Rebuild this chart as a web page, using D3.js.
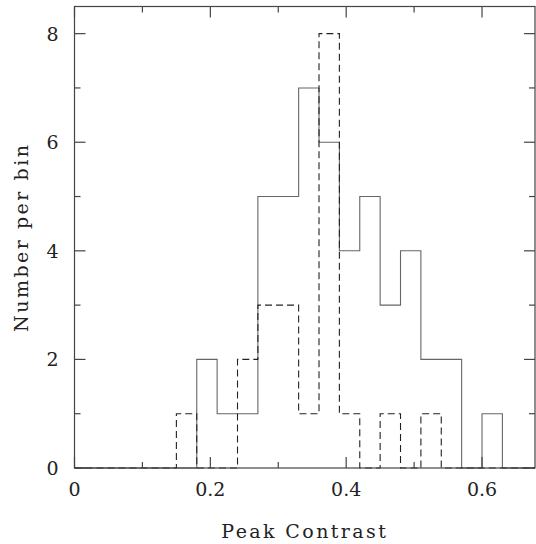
<!DOCTYPE html>
<html lang="en">
<head>
  <meta charset="UTF-8">
  <title>Peak Contrast histogram</title>
  <style>
    body { margin: 0; padding: 0; background: #ffffff; }
    svg { display: block; }
    .tick-label { font-family: "DejaVu Serif", serif; font-size: 19px; fill: #222; }
    .axis-title { font-family: "DejaVu Serif", serif; font-size: 19px; fill: #222; }
  </style>
</head>
<body>
<div id="chart"></div>
<script src="https://d3js.org/d3.v7.min.js"></script>
<script>
  const width = 536;
  const height = 544;
  const margin = { top: 6.5, right: 1, bottom: 76, left: 74.5 };

  // bin edges (width 0.03) and counts per bin
  const binEdges = [0, 0.03, 0.06, 0.09, 0.12, 0.15, 0.18, 0.21, 0.24, 0.27, 0.30, 0.33,
                    0.36, 0.39, 0.42, 0.45, 0.48, 0.51, 0.54, 0.57, 0.60, 0.63, 0.66];
  const solidCounts  = [0, 0, 0, 0, 0, 0, 2, 1, 1, 5, 5, 7, 6, 4, 5, 3, 4, 2, 2, 0, 1, 0];
  const dashedCounts = [0, 0, 0, 0, 0, 1, 0, 0, 2, 3, 3, 1, 8, 1, 0, 1, 0, 1, 0, 0, 0, 0];

  const xTicks = [0, 0.2, 0.4, 0.6];
  const xMinor = [0.1, 0.3, 0.5];
  const yTicks = [0, 2, 4, 6, 8];
  const yMinor = [1, 3, 5, 7];

  const xDomain = [0, 0.678];
  const yDomain = [0, 8.5];

  const svg = d3.select("#chart").append("svg")
    .attr("width", width)
    .attr("height", height);

  const x = d3.scaleLinear().domain(xDomain).range([margin.left, width - margin.right]);
  const y = d3.scaleLinear().domain(yDomain).range([height - margin.bottom, margin.top]);

  // step outline of a histogram
  function stepPoints(counts) {
    const pts = [];
    counts.forEach((c, i) => {
      pts.push([binEdges[i], c]);
      pts.push([binEdges[i + 1], c]);
    });
    pts.push([xDomain[1], 0]);
    return pts;
  }

  const line = d3.line().x(d => x(d[0])).y(d => y(d[1]));

  svg.append("path")
    .attr("d", line(stepPoints(solidCounts)))
    .attr("fill", "none")
    .attr("stroke", "#666")
    .attr("stroke-width", 1.1);

  svg.append("path")
    .attr("d", line(stepPoints(dashedCounts)))
    .attr("fill", "none")
    .attr("stroke", "#222")
    .attr("stroke-width", 1.1)
    .attr("stroke-dasharray", "7,4");

  // frame
  const x0 = x.range()[0], x1 = x.range()[1];
  const y0 = y.range()[0], y1 = y.range()[1];
  svg.append("rect")
    .attr("x", x0).attr("y", y1)
    .attr("width", x1 - x0).attr("height", y0 - y1)
    .attr("fill", "none")
    .attr("stroke", "#444")
    .attr("stroke-width", 1.2);

  const tickG = svg.append("g").attr("stroke", "#444").attr("stroke-width", 1.2);
  const major = 11, minor = 6;

  xTicks.concat(xMinor).forEach(v => {
    const len = xTicks.includes(v) ? major : minor;
    tickG.append("line").attr("x1", x(v)).attr("x2", x(v)).attr("y1", y0).attr("y2", y0 - len);
    tickG.append("line").attr("x1", x(v)).attr("x2", x(v)).attr("y1", y1).attr("y2", y1 + len);
  });
  yTicks.concat(yMinor).forEach(v => {
    const len = yTicks.includes(v) ? major : minor;
    tickG.append("line").attr("x1", x0).attr("x2", x0 + len).attr("y1", y(v)).attr("y2", y(v));
    tickG.append("line").attr("x1", x1).attr("x2", x1 - len).attr("y1", y(v)).attr("y2", y(v));
  });

  // tick labels
  svg.selectAll(".xlab").data(xTicks).enter().append("text")
    .attr("class", "tick-label")
    .attr("x", d => x(d))
    .attr("y", y0 + 28)
    .attr("text-anchor", "middle")
    .text(d => d === 0 ? "0" : d3.format(".1f")(d));

  svg.selectAll(".ylab").data(yTicks).enter().append("text")
    .attr("class", "tick-label")
    .attr("x", x0 - 16)
    .attr("y", d => y(d) + 7)
    .attr("text-anchor", "end")
    .text(d => d);

  // axis titles
  svg.append("text")
    .attr("class", "axis-title")
    .attr("x", (x0 + x1) / 2)
    .attr("y", 538)
    .attr("text-anchor", "middle")
    .style("letter-spacing", "2.4px")
    .text("Peak Contrast");

  svg.append("text")
    .attr("class", "axis-title")
    .attr("transform", `translate(28,${(y0 + y1) / 2}) rotate(-90)`)
    .attr("text-anchor", "middle")
    .style("letter-spacing", "2.5px")
    .text("Number per bin");
</script>
</body>
</html>
